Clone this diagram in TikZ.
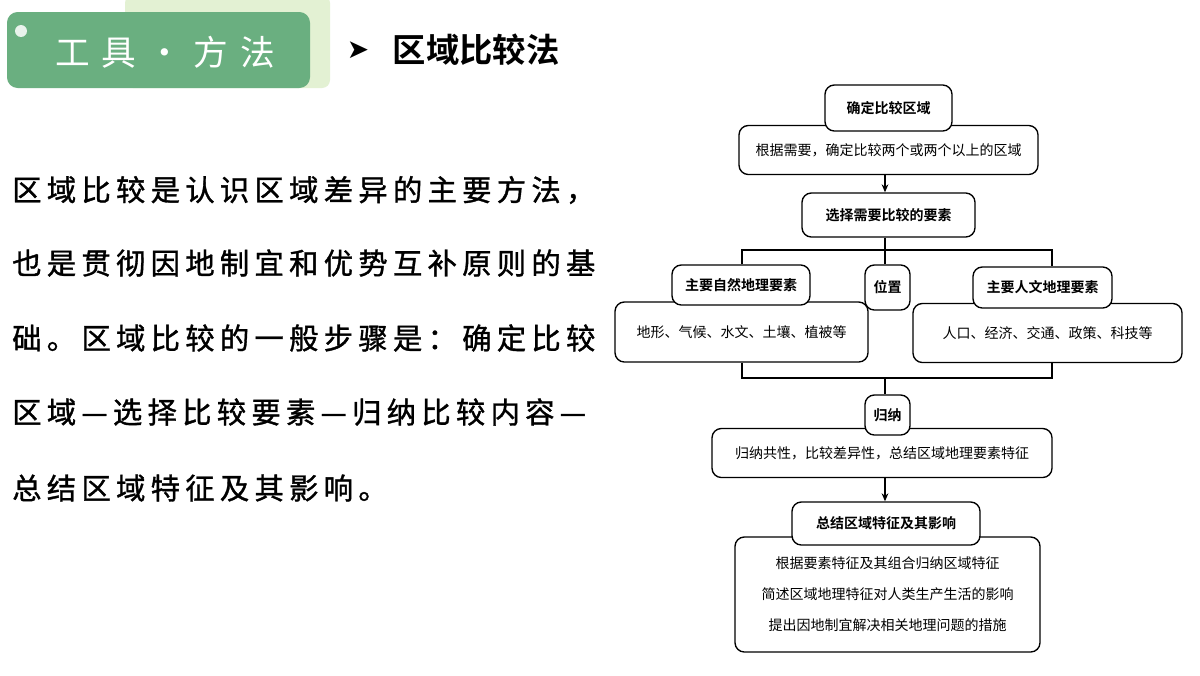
\documentclass[tikz,border=0pt]{standalone}
\usepackage{fontspec}
\newfontfamily\cjk{Noto Sans CJK SC}
\newfontfamily\cjkb{Noto Sans CJK SC Bold}
\newfontfamily\cjkbody[LetterSpace=18,FakeBold=1.2]{Noto Sans CJK SC}
\newfontfamily\dv{DejaVu Sans}
\usetikzlibrary{arrows.meta}
\definecolor{dg}{HTML}{6AAF80}
\definecolor{lg}{HTML}{E3F1D3}
\begin{document}
\begin{tikzpicture}[x=0.75pt,y=-0.75pt,
  bx/.style={draw=black,line width=1pt,rounded corners=7pt,fill=white,inner sep=0pt,font=\cjk\fontsize{10.5}{12}\selectfont,align=center},
  tb/.style={bx,font=\cjkb\fontsize{10.5}{12}\selectfont},
  ln/.style={line width=1pt},
  ar/.style={line width=1pt,-{Stealth[length=6pt,width=5pt]}},
  body/.style={anchor=west,inner sep=0pt,font=\cjkbody\fontsize{22}{24}\selectfont}]
\useasboundingbox (0,0) rectangle (1200,675);
\fill[white] (0,0) rectangle (1200,675);
% header
\fill[lg,rounded corners=6pt] (125,-5) rectangle (330,88);
\fill[dg,rounded corners=8pt] (7,12) rectangle (310,88);
\fill[white!85!dg] (21,31) circle (6);
\node[text=white,font=\cjk\fontsize{26}{28}\selectfont] (hd) at (165,52) {工\,\,具\,\,·\,\,方\,\,法};
\node[font=\dv\fontsize{20}{22}\selectfont] (arw) at (358,50) {➤};
\node[anchor=west,font=\cjkb\fontsize{25}{28}\selectfont] (ttl) at (388,50) {区域比较法};
% body
\node[body] (l1) at (12,190) {区域比较是认识区域差异的主要方法，};
\node[body] (l2) at (12,263) {也是贯彻因地制宜和优势互补原则的基};
\node[body] (l3) at (12,338) {础。区域比较的一般步骤是：确定比较};
\node[body] (l4) at (12,412) {区域—选择比较要素—归纳比较内容—};
\node[body] (l5) at (12,488) {总结区域特征及其影响。};
% flowchart
\node[bx,minimum width=299*0.75pt,minimum height=49*0.75pt] (c1) at (888.5,150) {\raisebox{-2pt}{根据需要，确定比较两个或两个以上的区域}};
\node[tb,minimum width=127*0.75pt,minimum height=46*0.75pt] (t1) at (888.5,108) {确定比较区域};
\node[tb,minimum width=173*0.75pt,minimum height=44*0.75pt] (t2) at (888.5,215) {选择需要比较的要素};
\draw[ar] (c1.south -| 885,0) -- (t2.north -| 885,0);
\coordinate (jl) at (742,250); \coordinate (jr) at (1052,250);
\node[bx,minimum width=253*0.75pt,minimum height=60*0.75pt] (c3) at (741.5,332) {\raisebox{-2pt}{地形、气候、水文、土壤、植被等}};
\node[tb,minimum width=138*0.75pt,minimum height=40*0.75pt] (t3) at (741,285) {主要自然地理要素};
\node[tb,minimum width=45*0.75pt,minimum height=45*0.75pt] (t4) at (887.5,287.5) {位置};
\node[bx,minimum width=269*0.75pt,minimum height=59*0.75pt] (c5) at (1047.5,333) {\raisebox{-2pt}{人口、经济、交通、政策、科技等}};
\node[tb,minimum width=139*0.75pt,minimum height=41*0.75pt] (t5) at (1042.5,287.5) {主要人文地理要素};
\draw[ln] (t2.south -| 885,0) -- (t4.north -| 885,0);
\draw[ln] (t3.north -| jl) -- (jl) -- (jr) -- (t5.north -| jr);
\coordinate (bl) at (742,378); \coordinate (br) at (1052,378);
\node[bx,minimum width=340*0.75pt,minimum height=49*0.75pt] (c6) at (882,453) {\raisebox{-2pt}{归纳共性，比较差异性，总结区域地理要素特征}};
\node[tb,minimum width=45*0.75pt,minimum height=40*0.75pt] (t6) at (887.5,415) {归纳};
\draw[ln] (c3.south -| bl) -- (bl) -- (br) -- (c5.south -| br);
\draw[ln] (885,378) -- (t6.north -| 885,0);
\node[bx,minimum width=305*0.75pt,minimum height=115*0.75pt,font=\cjk\fontsize{10.5}{23.25}\selectfont] (c7) at (887.5,594.5) {\raisebox{-4pt}{\parbox{300\dimexpr0.75pt}{\centering 根据要素特征及其组合归纳区域特征\\简述区域地理特征对人类生产生活的影响\\提出因地制宜解决相关地理问题的措施}}};
\node[tb,minimum width=188*0.75pt,minimum height=43*0.75pt] (t7) at (886,523.5) {总结区域特征及其影响};
\draw[ar] (c6.south -| 885,0) -- (t7.north -| 885,0);
\end{tikzpicture}
\end{document}
